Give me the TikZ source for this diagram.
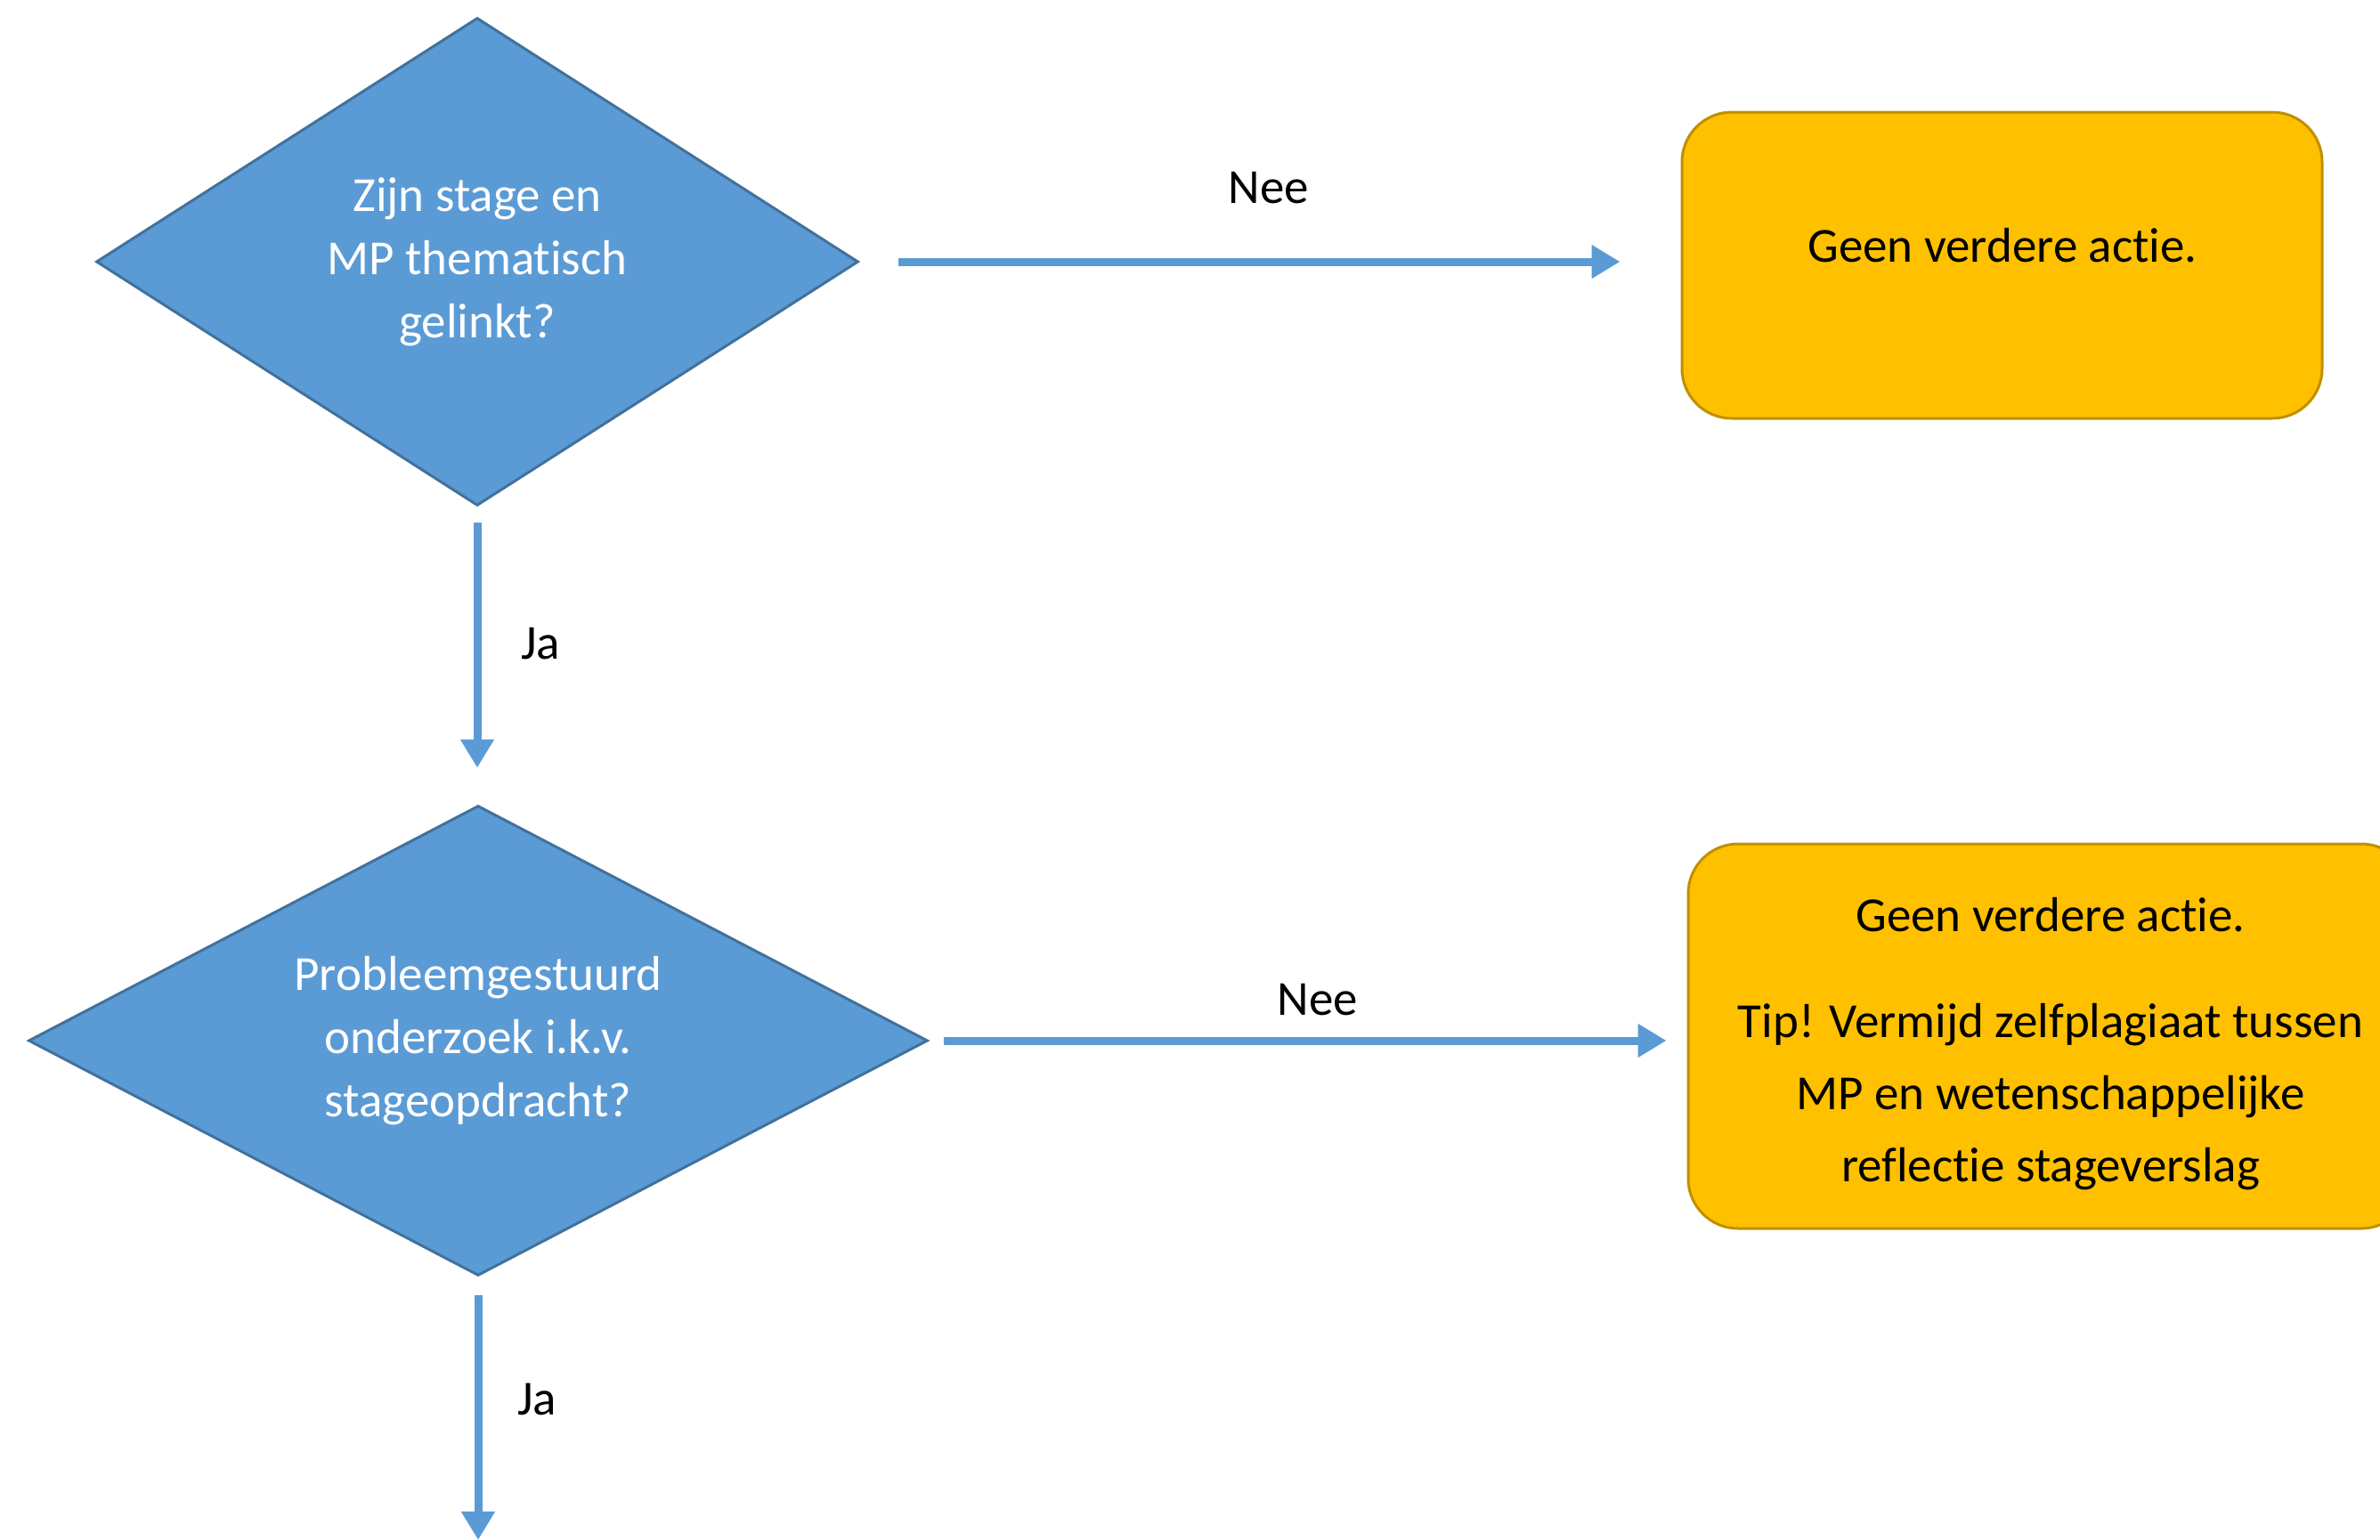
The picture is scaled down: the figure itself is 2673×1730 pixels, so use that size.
\documentclass[tikz,border=0pt]{standalone}
\usepackage{fontspec}
\setmainfont{Carlito}[RawFeature={-liga;-clig;-calt;-dlig}]
\usetikzlibrary{shapes.geometric,arrows.meta}
\definecolor{dblue}{HTML}{5B9BD5}
\definecolor{dblueline}{HTML}{41719C}
\definecolor{gold}{HTML}{FFC000}
\definecolor{goldline}{HTML}{BF9000}
\begin{document}
\begin{tikzpicture}[x=0.5pt,y=-0.5pt,
  decision/.style={shape=diamond, aspect=2, fill=dblue, draw=dblueline, line width=1.5pt, inner sep=0pt, text=white, align=center, font=\fontsize{27.5}{35.5}\selectfont},
  endbox/.style={rectangle, rounded corners=28pt, fill=gold, draw=goldline, line width=1.5pt, inner sep=0pt},
  flow/.style={draw=dblue, line width=4.5pt, -{Triangle[length=16pt,width=18pt]}},
  lbl/.style={font=\fontsize{27.5}{33}\selectfont, text=black}]
\useasboundingbox (0,0) rectangle (2673,1730);
\node[decision, minimum width=428pt, minimum height=274pt] (d1) at (536,294) {Zijn stage en\\MP thematisch\\gelinkt?};
\node[decision, minimum width=505pt, minimum height=264pt] (d2) at (537,1169) {Probleemgestuurd\\onderzoek i.k.v.\\stageopdracht?};
\node[endbox, minimum width=359.5pt, minimum height=172pt] (b1) at (2248.5,298) {};
\node[lbl] (t1) at (2249,276) {Geen verdere actie.};
\node[endbox, minimum width=406pt, minimum height=216pt] (b2) at (2302,1164) {};
\node[lbl, align=center, font=\fontsize{27.5}{40.5}\selectfont] (t2) at (2303,1173) {Geen verdere actie.\\[19pt]Tip! Vermijd zelfplagiaat tussen\\MP en wetenschappelijke\\reflectie stageverslag};
\draw[flow, shorten <=21.5pt, shorten >=34pt] (d1.east) -- (d1.east -| b1.west);
\node[lbl] (n1) at (1425,211) {Nee};
\draw[flow, shorten <=8.5pt, shorten >=20.5pt] (d1.south) -- (d1.south |- d2.north);
\node[lbl] (j1) at (607,723) {Ja};
\draw[flow, shorten <=8pt, shorten >=11.5pt] (d2.east) -- (d2.east -| b2.west);
\node[lbl] (n2) at (1480,1123) {Nee};
\coordinate (out) at (537,1730);
\draw[flow, shorten <=10pt] (d2.south) -- (out);
\node[lbl] (j2) at (603,1572) {Ja};
\end{tikzpicture}
\end{document}
